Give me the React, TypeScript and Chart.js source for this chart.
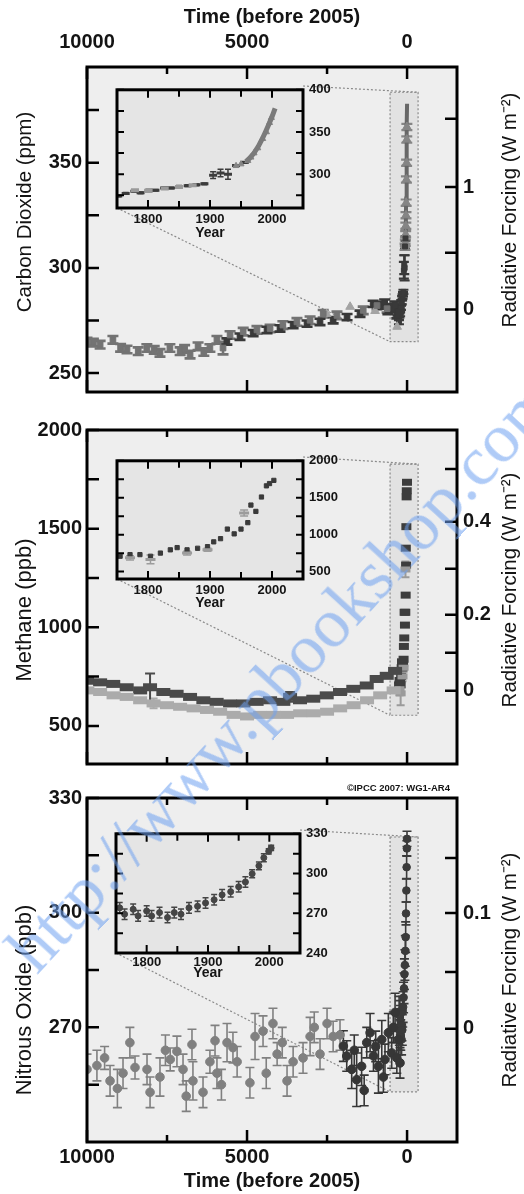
import React, { useEffect, useRef } from 'react';
import { Chart, registerables } from 'chart.js';

Chart.register(...registerables);

// ---------------- fonts & colours ----------------
const SANS = "'Liberation Sans', Arial, Helvetica, sans-serif";
const SERIF = "'Liberation Serif', 'DejaVu Serif', 'Times New Roman', serif";
const INK = '#141414';
const PANEL_BG = '#eeeeee';
const INSET_BG = '#e5e5e5';
const BOX_BG = '#e2e2e2';

// ---------------- axes: ticks & labels ----------------
const AGE_MIN = -1560;
const AGE_MAX = 10000;
const AGE_TICKS = [10000, 7500, 5000, 2500, 0];
const AGE_TICK_LABELS = ['10000', '', '5000', '', '0'];

const YEAR_TICKS = [1800, 1850, 1900, 1950, 2000];
const YEAR_TICK_LABELS = ['1800', '', '1900', '', '2000'];

const CO2_TICKS = [250, 275, 300, 325, 350, 375];
const CO2_TICK_LABELS = ['250', '', '300', '', '350', ''];
const CO2_RF_TICKS = [280.2, 307.2, 338.4, 370.9];
const CO2_RF_LABELS = ['0', '', '1', ''];
const CO2_INSET_TICKS = [275, 300, 325, 350, 375, 400];
const CO2_INSET_LABELS = ['', '300', '', '350', '', '400'];

const CH4_TICKS = [500, 750, 1000, 1250, 1500, 1750, 2000];
const CH4_TICK_LABELS = ['500', '', '1000', '', '1500', '', '2000'];
const CH4_RF_TICKS = [678, 871, 1064, 1297, 1535, 1802];
const CH4_RF_LABELS = ['0', '', '0.2', '', '0.4', ''];
const CH4_INSET_TICKS = [500, 750, 1000, 1250, 1500, 1750, 2000];
const CH4_INSET_LABELS = ['500', '', '1000', '', '1500', '', '2000'];

const N2O_TICKS = [255, 270, 285, 300, 315, 330];
const N2O_TICK_LABELS = ['', '270', '', '300', '', '330'];
const N2O_RF_TICKS = [269.6, 284.5, 299.9, 314.3];
const N2O_RF_LABELS = ['0', '', '0.1', ''];
const N2O_INSET_TICKS = [240, 255, 270, 285, 300, 315, 330];
const N2O_INSET_LABELS = ['240', '', '270', '', '300', '', '330'];

// ---------------- CO2 data (ppm) ----------------
// ages = years before 2005
const CO2_A_AGE = [10000, 9800, 9590, 9190, 8950, 8750, 8400, 8130, 7900, 7720, 7410, 7090, 6950, 6780, 6530, 6350, 6160, 5940, 5750, 5530, 5120, 4690, 4280, 3880, 3440, 3030, 2620, 2190, 1370, 940, 625];
const CO2_A_VAL = [265.0, 264.5, 263.5, 265.8, 262.0, 261.2, 260.4, 261.9, 261.0, 259.6, 261.9, 260.4, 261.5, 258.8, 262.7, 260.0, 261.9, 265.8, 261.9, 268.1, 269.7, 270.5, 271.2, 272.8, 274.3, 275.1, 278.2, 277.4, 279.8, 282.1, 280.6];
const CO2_A_ERR = [1.8, 1.8, 1.8, 1.8, 1.8, 1.8, 1.8, 1.8, 1.8, 1.8, 1.8, 1.8, 1.8, 1.8, 1.8, 1.8, 1.8, 1.8, 3.0, 1.8, 1.8, 1.8, 1.8, 1.8, 1.8, 1.8, 1.8, 1.8, 1.8, 1.8, 1.8];

const CO2_B_AGE = [5630, 5220, 4810, 4375, 3970, 3560, 3125, 2720, 2310, 1875, 1470, 1060, 840, 700, 600, 530, 450, 380, 320, 280];
const CO2_B_VAL = [265.0, 267.3, 269.0, 270.5, 271.2, 272.8, 273.5, 274.3, 275.1, 276.6, 278.2, 282.9, 282.1, 283.5, 279.5, 281.3, 280.5, 282.5, 277.5, 278.9];
const CO2_B_ERR = [1.5, 1.5, 1.5, 1.5, 1.5, 1.5, 1.5, 1.5, 1.5, 1.5, 1.5, 1.5, 1.5, 1.5, 1.5, 1.5, 1.5, 1.5, 1.5, 1.5];

const CO2_C_AGE = [2510, 1780, 1000, 310];
const CO2_C_VAL = [278.0, 281.5, 279.5, 272.0];

// calendar years (inset)
const CO2_ICE_YEAR = [1752, 1764, 1778, 1788, 1801, 1812, 1826, 1837, 1850, 1864, 1878, 1891, 1905, 1917, 1929, 1942, 1956];
const CO2_ICE_VAL = [274.2, 277.3, 279.9, 278.0, 281.0, 281.0, 283.7, 283.7, 285.6, 286.4, 287.5, 288.6, 298.9, 301.5, 300.0, 310.2, 314.0];
const CO2_ICE_ERR = [1, 1, 1, 1, 1, 1, 1, 1, 1, 1, 1, 1, 4, 4.5, 6, 1, 1];

const CO2_LD_YEAR = [1779, 1801, 1827, 1850, 1872];
const CO2_LD_VAL = [281.0, 280.0, 283.0, 285.0, 287.0];

const CO2_FIRN_YEAR = [1942, 1950, 1961, 1966, 1971, 1977, 1985, 1991, 1996, 1999];
const CO2_FIRN_VAL = [310, 312, 316, 320, 325, 331, 342, 350, 361, 367];

const ML_YEAR = [1958, 1964, 1971, 1978, 1985, 1990, 1996, 2000, 2005];
const ML_VAL = [315, 319, 325, 333, 343, 351, 361, 368, 378];

// ---------------- CH4 data (ppb) ----------------
const CH4_A_AGE = [10000, 9590, 9180, 8760, 8340, 8030, 7615, 7200, 6780, 6365, 5950, 5530, 5115, 4700, 4280, 3865, 3655, 3345, 2930, 2510, 2095, 1680, 1260, 950, 635, 375];
const CH4_A_VAL = [729, 721, 713, 696, 680, 696, 672, 663, 647, 630, 622, 614, 614, 622, 630, 622, 647, 630, 638, 655, 672, 688, 705, 738, 754, 779];
const CH4_A_ERR = [0, 0, 0, 0, 0, 70, 0, 0, 0, 0, 0, 0, 0, 0, 0, 0, 25, 0, 0, 0, 0, 0, 0, 0, 0, 0];

const CH4_B_AGE = [9990, 9590, 9170, 8760, 8340, 7920, 7500, 7090, 6670, 6250, 5840, 5420, 5000, 4590, 4170, 3750, 3340, 2920, 2500, 2090, 1670, 1250, 840, 420];
const CH4_B_VAL = [680, 672, 655, 647, 630, 614, 605, 597, 589, 581, 572, 556, 548, 556, 556, 556, 564, 564, 572, 589, 605, 630, 655, 680];
const CH4_B_ERR = [0, 0, 0, 0, 0, 25, 0, 0, 0, 0, 0, 0, 0, 0, 0, 0, 0, 0, 0, 0, 0, 0, 0, 0];

const CH4_YEAR = [1755, 1771, 1787, 1804, 1820, 1836, 1847, 1863, 1880, 1896, 1906, 1917, 1928, 1939, 1950, 1961, 1966, 1974, 1983, 1991, 1996, 2003];
const CH4_VAL = [708, 730, 730, 708, 751, 795, 825, 795, 816, 838, 903, 946, 1076, 1011, 1076, 1163, 1401, 1315, 1510, 1661, 1692, 1735];

const CH4_L_YEAR = [1771, 1804, 1863, 1896, 1955];
const CH4_L_VAL = [686, 665, 751, 795, 1293];
const CH4_L_ERR = [30, 60, 25, 20, 40];

// ---------------- N2O data (ppb) ----------------
const N2O_A_AGE = [10000, 9690, 9450, 9280, 9050, 8875, 8660, 8500, 8125, 8030, 7720, 7550, 7400, 7190, 7000, 6900, 6720, 6690, 6375, 6160, 6000, 5940, 5800, 5625, 5440, 5310, 4910, 4750, 4500, 4400, 4190, 4060, 3900, 3750, 3560, 3250, 3030, 2900, 2720, 2500, 2310, 2095];
const N2O_A_VAL = [259, 260, 262, 256, 254, 258, 266, 259.5, 259, 253, 257, 264, 261.6, 263.7, 259, 252, 265.5, 256, 253, 261, 266.5, 258, 255, 266, 264.7, 261, 255.5, 267.6, 269, 258, 271, 263, 266, 256, 261, 262, 267.6, 270, 263, 271, 267.6, 268];
const N2O_A_ERR = [4, 4, 3, 4, 5, 4, 4, 3, 4, 4, 5, 4, 3, 4, 4, 4, 4, 5, 4, 3, 4, 4, 4, 5, 4, 4, 4, 6, 4, 4, 4, 3, 4, 4, 4, 4, 5, 4, 4, 4, 4, 4];

const N2O_B_AGE = [1990, 1885, 1730, 1650, 1575, 1420, 1340, 1260, 1155, 1050, 980, 895, 790, 740, 690, 585, 480, 430, 375, 320, 270, 220];
const N2O_B_VAL = [265.1, 262.5, 259, 264, 256.3, 259.8, 253.5, 266, 268.6, 262.5, 265, 259.8, 266.8, 257, 261.6, 268.6, 263.3, 270, 273.9, 262, 266.8, 260.7];
const N2O_B_ERR = [4, 4, 5, 4, 7, 5, 4, 4, 5, 4, 4, 7, 5, 4, 4, 5, 4, 4, 5, 4, 4, 4];

const N2O_YEAR = [1756, 1764, 1778, 1786, 1800, 1808, 1821, 1834, 1845, 1856, 1869, 1883, 1896, 1910, 1923, 1937, 1950, 1961, 1972, 1983, 1991, 1999, 2003];
const N2O_VAL = [274.1, 269.3, 273, 268, 271.7, 268, 270.5, 266.8, 270.5, 269.3, 274.1, 275.3, 277.8, 280.2, 283.9, 286.3, 290, 293.6, 299.8, 305.8, 311.9, 316.8, 319.3];
const N2O_ERR = [4, 4, 4, 4, 4, 4, 4, 4, 4, 4, 4, 4, 4, 4, 4, 4, 4, 4, 3, 3, 3, 2, 2];

// ---------------- helpers ----------------
const pts = (xs: number[], ys: number[]) => xs.map((x, i) => ({ x, y: ys[i] }));
const toAge = (years: number[]) => years.map((yr) => 2005 - yr);

function mark(color: string, style: string, radius: number, bw = 1, extra: any = {}) {
  return {
    pointStyle: style,
    pointRadius: radius,
    pointHoverRadius: radius,
    pointBorderWidth: bw,
    borderWidth: bw,
    backgroundColor: color,
    borderColor: color,
    pointBackgroundColor: color,
    pointBorderColor: color,
    showLine: false,
    ...extra,
  };
}

function drawErrorBars(chart: any) {
  const { ctx, chartArea: a, scales } = chart;
  const x = scales.x;
  const y = scales.y;
  ctx.save();
  ctx.beginPath();
  ctx.rect(a.left, a.top, a.right - a.left, a.bottom - a.top);
  ctx.clip();
  chart.data.datasets.forEach((ds: any) => {
    if (!ds.err) return;
    ctx.strokeStyle = ds.errColor || ds.borderColor;
    ctx.lineWidth = ds.errWidth || 1.5;
    const cap = ds.capHalf ?? 4;
    ds.data.forEach((p: any, i: number) => {
      const e = ds.err[i];
      if (!e) return;
      const px = x.getPixelForValue(p.x);
      const p1 = y.getPixelForValue(p.y - e);
      const p2 = y.getPixelForValue(p.y + e);
      ctx.beginPath();
      ctx.moveTo(px, p1);
      ctx.lineTo(px, p2);
      ctx.moveTo(px - cap, p1);
      ctx.lineTo(px + cap, p1);
      ctx.moveTo(px - cap, p2);
      ctx.lineTo(px + cap, p2);
      ctx.stroke();
    });
  });
  ctx.restore();
}

function drawFrame(chart: any, o: { xMajor: number; xMinor: number; yLen: number; lw: number; frameLw: number }) {
  const { ctx, chartArea: a, scales } = chart;
  const x = scales.x;
  const yl = scales.y;
  const yr = scales.y2 || scales.y;
  ctx.save();
  ctx.strokeStyle = '#000';
  ctx.lineWidth = o.lw;
  ctx.beginPath();
  x.ticks.forEach((t: any) => {
    const p = x.getPixelForValue(t.value);
    const L = t.label ? o.xMajor : o.xMinor;
    ctx.moveTo(p, a.top);
    ctx.lineTo(p, a.top + L);
    ctx.moveTo(p, a.bottom);
    ctx.lineTo(p, a.bottom - L);
  });
  yl.ticks.forEach((t: any) => {
    const p = yl.getPixelForValue(t.value);
    ctx.moveTo(a.left, p);
    ctx.lineTo(a.left + o.yLen, p);
  });
  yr.ticks.forEach((t: any) => {
    const p = yr.getPixelForValue(t.value);
    ctx.moveTo(a.right, p);
    ctx.lineTo(a.right - o.yLen, p);
  });
  ctx.stroke();
  ctx.lineWidth = o.frameLw;
  ctx.strokeRect(a.left, a.top, a.right - a.left, a.bottom - a.top);
  ctx.restore();
}

function drawVText(ctx: any, text: string, cx: number, cy: number, font: string) {
  ctx.save();
  ctx.translate(cx, cy);
  ctx.rotate(-Math.PI / 2);
  ctx.font = font;
  ctx.fillStyle = INK;
  ctx.textAlign = 'center';
  ctx.textBaseline = 'middle';
  ctx.fillText(text, 0, 0);
  ctx.restore();
}

// ---------------- panel layouts ----------------
const INSET_CO2 = { id: 'i1', area: { l: 117, t: 86, r: 303, b: 208 }, canvas: { l: 109, t: 76, w: 240, h: 170 }, xPad: 4, yearPad: 4.6 };
const INSET_CH4 = { id: 'i2', area: { l: 117, t: 457, r: 303, b: 579 }, canvas: { l: 109, t: 447, w: 240, h: 170 }, xPad: 3.2, yearPad: 5.6 };
const INSET_N2O = { id: 'i3', area: { l: 116, t: 830, r: 300, b: 953 }, canvas: { l: 108, t: 820, w: 240, h: 170 }, xPad: 1.2, yearPad: 8.6 };

const PANELS: any[] = [
  {
    id: 'co2', top: 0, height: 410, padTop: 0, padBottom: 10, xMode: 'top', xAxisH: 67,
    xTickPad: 13, xTitlePad: { top: 5, bottom: 0 },
    yMin: 241, yMax: 395.5, yTicks: CO2_TICKS, yLabels: CO2_TICK_LABELS, rfTicks: CO2_RF_TICKS, rfLabels: CO2_RF_LABELS,
    leftTitle: 'Carbon Dioxide (ppm)', leftTitleY: 212, leftSize: 20.5, rightTitleY: 210,
    box: { a0: 531, a1: -344, v0: 264.9, v1: 383.5 }, inset: INSET_CO2.area,
    datasets: () => [
      { data: pts(CO2_A_AGE, CO2_A_VAL), err: CO2_A_ERR, capHalf: 5.5, errWidth: 2.6, ...mark('#737373', 'rect', 4) },
      { data: pts(CO2_B_AGE, CO2_B_VAL), err: CO2_B_ERR, capHalf: 5.5, errWidth: 2.6, ...mark('#393939', 'rect', 4) },
      { data: pts(CO2_C_AGE, CO2_C_VAL), ...mark('#a3a3a3', 'triangle', 5) },
      { data: pts(toAge(CO2_ICE_YEAR), CO2_ICE_VAL), err: CO2_ICE_ERR, capHalf: 5, errWidth: 2.2, ...mark('#3a3a3a', 'rect', 3.5) },
      { data: pts(toAge(CO2_FIRN_YEAR), CO2_FIRN_VAL), err: CO2_FIRN_VAL.map(() => 1.5), capHalf: 5.5, errWidth: 2.2, ...mark('#858585', 'triangle', 5) },
      { data: pts(toAge(ML_YEAR), ML_VAL), ...mark('#676767', 'circle', 0, 4, { showLine: true, borderWidth: 4 }) },
    ],
  },
  {
    id: 'ch4', top: 410, height: 372, padTop: 20, padBottom: 10, xMode: 'none', xAxisH: 0,
    xTickPad: 0, xTitlePad: 0,
    yMin: 307, yMax: 2000, yTicks: CH4_TICKS, yLabels: CH4_TICK_LABELS, rfTicks: CH4_RF_TICKS, rfLabels: CH4_RF_LABELS,
    leftTitle: 'Methane (ppb)', leftTitleY: 610, leftSize: 22, rightTitleY: 590,
    box: { a0: 531, a1: -344, v0: 554, v1: 1827 }, inset: INSET_CH4.area,
    datasets: () => [
      { data: pts(CH4_B_AGE, CH4_B_VAL), err: CH4_B_ERR, capHalf: 4, errWidth: 2, ...mark('#ababab', 'line', 7, 8) },
      { data: pts(CH4_A_AGE, CH4_A_VAL), err: CH4_A_ERR, capHalf: 5, errWidth: 2, ...mark('#4a4a4a', 'line', 7, 8) },
      { data: pts(toAge(CH4_L_YEAR), CH4_L_VAL), err: CH4_L_ERR, capHalf: 4, errWidth: 2, ...mark('#9a9a9a', 'line', 5, 6) },
      { data: pts(toAge(CH4_YEAR), CH4_VAL), ...mark('#3d3d3d', 'line', 5, 7) },
    ],
  },
  {
    id: 'n2o', top: 780, height: 414, padTop: 18, padBottom: 0, xMode: 'bottom', xAxisH: 52,
    xTickPad: 3.5, xTitlePad: { top: 0, bottom: 1 },
    yMin: 240, yMax: 330, yTicks: N2O_TICKS, yLabels: N2O_TICK_LABELS, rfTicks: N2O_RF_TICKS, rfLabels: N2O_RF_LABELS,
    leftTitle: 'Nitrous Oxide (ppb)', leftTitleY: 1000, leftSize: 22, rightTitleY: 970,
    box: { a0: 531, a1: -344, v0: 253.1, v1: 319.8 }, inset: INSET_N2O.area,
    copyright: '©IPCC 2007: WG1-AR4',
    datasets: () => [
      { data: pts(N2O_A_AGE, N2O_A_VAL), err: N2O_A_ERR, capHalf: 4.5, errWidth: 1.6, ...mark('#808080', 'circle', 4.3) },
      { data: pts(N2O_B_AGE, N2O_B_VAL), err: N2O_B_ERR, capHalf: 4.5, errWidth: 1.6, ...mark('#363636', 'circle', 4.3) },
      { data: pts(toAge(N2O_YEAR), N2O_VAL), err: N2O_ERR, capHalf: 4.5, errWidth: 1.6, ...mark('#3a3a3a', 'circle', 3.8) },
    ],
  },
];

const INSETS: any[] = [
  {
    ...INSET_CO2, yMin: 260, yMax: 400, yTicks: CO2_INSET_TICKS, yLabels: CO2_INSET_LABELS,
    datasets: () => [
      { data: pts(CO2_LD_YEAR, CO2_LD_VAL), ...mark('#9a9a9a', 'line', 4, 4) },
      { data: pts(ML_YEAR, ML_VAL), ...mark('#7a7a7a', 'circle', 0, 5, { showLine: true, borderWidth: 5 }) },
      { data: pts(CO2_FIRN_YEAR, CO2_FIRN_VAL), ...mark('#858585', 'triangle', 3.5) },
      { data: pts(CO2_ICE_YEAR, CO2_ICE_VAL), err: CO2_ICE_ERR, capHalf: 3, errWidth: 1.5, ...mark('#3c3c3c', 'line', 4, 3) },
    ],
  },
  {
    ...INSET_CH4, yMin: 400, yMax: 2000, yTicks: CH4_INSET_TICKS, yLabels: CH4_INSET_LABELS,
    datasets: () => [
      { data: pts(CH4_L_YEAR, CH4_L_VAL), err: CH4_L_ERR, capHalf: 4, errWidth: 1.5, ...mark('#9c9c9c', 'line', 5, 3) },
      { data: pts(CH4_YEAR, CH4_VAL), ...mark('#3a3a3a', 'rect', 3) },
    ],
  },
  {
    ...INSET_N2O, yMin: 240, yMax: 330, yTicks: N2O_INSET_TICKS, yLabels: N2O_INSET_LABELS,
    datasets: () => [
      { data: pts(N2O_YEAR, N2O_VAL), err: N2O_ERR, capHalf: 3, errWidth: 1.5, ...mark('#454545', 'circle', 3) },
    ],
  },
];

// ---------------- chart configs ----------------
function mainConfig(s: any) {
  const tickFont = { family: SANS, size: 20, weight: 'bold' as const };
  const plugin = {
    id: 'panel_' + s.id,
    beforeDraw(chart: any) {
      const { ctx, chartArea: a, scales } = chart;
      const x = scales.x;
      const y = scales.y;
      ctx.save();
      ctx.fillStyle = PANEL_BG;
      ctx.fillRect(a.left, a.top, a.right - a.left, a.bottom - a.top);
      const bl = x.getPixelForValue(s.box.a0);
      const br = x.getPixelForValue(s.box.a1);
      const bt = y.getPixelForValue(s.box.v1);
      const bb = y.getPixelForValue(s.box.v0);
      ctx.fillStyle = BOX_BG;
      ctx.fillRect(bl, bt, br - bl, bb - bt);
      ctx.setLineDash([2, 2]);
      ctx.strokeStyle = '#8a8a8a';
      ctx.lineWidth = 1.2;
      ctx.strokeRect(bl, bt, br - bl, bb - bt);
      ctx.beginPath();
      ctx.moveTo(s.inset.r, s.inset.t - s.top);
      ctx.lineTo(br, bt);
      ctx.moveTo(s.inset.l, s.inset.b - s.top);
      ctx.lineTo(bl, bb);
      ctx.stroke();
      ctx.restore();
    },
    beforeDatasetsDraw(chart: any) {
      drawErrorBars(chart);
    },
    afterDraw(chart: any) {
      drawFrame(chart, { xMajor: 12, xMinor: 7, yLen: 12, lw: 2.5, frameLw: 3 });
      const ctx = chart.ctx;
      drawVText(ctx, s.leftTitle, 25, s.leftTitleY - s.top, `${s.leftSize}px ${SANS}`);
      drawVText(ctx, 'Radiative Forcing (W m⁻²)', 510, s.rightTitleY - s.top, `20.5px ${SANS}`);
      if (s.copyright) {
        ctx.save();
        ctx.font = `bold 9.5px ${SANS}`;
        ctx.fillStyle = INK;
        ctx.textAlign = 'right';
        ctx.textBaseline = 'middle';
        ctx.fillText(s.copyright, 450, 788 - s.top);
        ctx.restore();
      }
    },
  };
  const yCommon = (ticks: number[], labels: string[], width: number, pos: string) => ({
    type: 'linear',
    position: pos,
    min: s.yMin,
    max: s.yMax,
    grid: { display: false, drawTicks: false },
    border: { display: false },
    afterBuildTicks: (sc: any) => {
      sc.ticks = ticks.map((v) => ({ value: v }));
    },
    afterFit: (sc: any) => {
      sc.width = width;
    },
    ticks: { autoSkip: false, padding: pos === 'left' ? 5 : 6, font: tickFont, color: INK, callback: (_v: any, i: number) => labels[i] },
  });
  return {
    type: 'scatter',
    data: { datasets: s.datasets() },
    options: {
      animation: false,
      responsive: false,
      devicePixelRatio: 1,
      events: [],
      layout: { padding: { left: 0, right: 0, top: s.padTop, bottom: s.padBottom } },
      plugins: { legend: { display: false }, tooltip: { enabled: false } },
      scales: {
        x: {
          type: 'linear',
          reverse: true,
          min: AGE_MIN,
          max: AGE_MAX,
          position: s.xMode === 'top' ? 'top' : 'bottom',
          grid: { display: false, drawTicks: false },
          border: { display: false },
          afterBuildTicks: (sc: any) => {
            sc.ticks = AGE_TICKS.map((v) => ({ value: v }));
          },
          afterFit: (sc: any) => {
            sc.height = s.xAxisH;
          },
          ticks: {
            display: s.xMode !== 'none',
            autoSkip: false,
            maxRotation: 0,
            padding: s.xTickPad,
            font: tickFont,
            color: INK,
            callback: (_v: any, i: number) => AGE_TICK_LABELS[i],
          },
          title: {
            display: s.xMode !== 'none',
            text: 'Time (before 2005)',
            color: INK,
            font: { family: SANS, size: 20, weight: 'bold' },
            padding: s.xTitlePad,
          },
        },
        y: yCommon(s.yTicks, s.yLabels, 87, 'left'),
        y2: yCommon(s.rfTicks, s.rfLabels, 67, 'right'),
      },
    },
    plugins: [plugin],
  };
}

function insetConfig(s: any) {
  const tickFont = { family: SANS, size: 13, weight: 'bold' as const };
  const plugin = {
    id: 'inset_' + s.id,
    beforeDraw(chart: any) {
      const { ctx, chartArea: a } = chart;
      ctx.save();
      ctx.fillStyle = INSET_BG;
      ctx.fillRect(a.left, a.top, a.right - a.left, a.bottom - a.top);
      ctx.restore();
    },
    beforeDatasetsDraw(chart: any) {
      drawErrorBars(chart);
    },
    afterDraw(chart: any) {
      drawFrame(chart, { xMajor: 8, xMinor: 7, yLen: 7, lw: 2, frameLw: 3 });
    },
  };
  return {
    type: 'scatter',
    data: { datasets: s.datasets() },
    options: {
      animation: false,
      responsive: false,
      devicePixelRatio: 1,
      events: [],
      layout: { padding: { left: s.area.l - s.canvas.l, top: s.area.t - s.canvas.t, right: 0, bottom: 0 } },
      plugins: { legend: { display: false }, tooltip: { enabled: false } },
      scales: {
        x: {
          type: 'linear',
          min: 1750,
          max: 2050,
          position: 'bottom',
          grid: { display: false, drawTicks: false },
          border: { display: false },
          afterBuildTicks: (sc: any) => {
            sc.ticks = YEAR_TICKS.map((v) => ({ value: v }));
          },
          afterFit: (sc: any) => {
            sc.height = s.canvas.t + s.canvas.h - s.area.b;
          },
          ticks: { autoSkip: false, maxRotation: 0, padding: s.xPad, font: tickFont, color: INK, callback: (_v: any, i: number) => YEAR_TICK_LABELS[i] },
          title: { display: true, text: 'Year', color: INK, font: { family: SANS, size: 14, weight: 'bold' }, padding: { top: 0, bottom: s.yearPad } },
        },
        y: {
          type: 'linear',
          position: 'right',
          min: s.yMin,
          max: s.yMax,
          grid: { display: false, drawTicks: false },
          border: { display: false },
          afterBuildTicks: (sc: any) => {
            sc.ticks = s.yTicks.map((v: number) => ({ value: v }));
          },
          afterFit: (sc: any) => {
            sc.width = s.canvas.l + s.canvas.w - s.area.r;
          },
          ticks: { autoSkip: false, padding: 6, font: tickFont, color: INK, callback: (_v: any, i: number) => s.yLabels[i] },
        },
      },
    },
    plugins: [plugin],
  };
}

function ChartBox({ left, top, width, height, build }: any) {
  const ref = useRef<HTMLCanvasElement | null>(null);
  useEffect(() => {
    if (!ref.current) return;
    const chart = new Chart(ref.current, build());
    return () => chart.destroy();
  }, []);
  return (
    <div style={{ position: 'absolute', left, top, width, height }}>
      <canvas ref={ref} width={width} height={height} style={{ display: 'block', width, height }} />
    </div>
  );
}

export default function App() {
  return (
    <div style={{ position: 'absolute', left: 0, top: 0, width: 524, height: 1194, overflow: 'hidden', background: '#ffffff' }}>
      {PANELS.map((p) => (
        <ChartBox key={p.id} left={0} top={p.top} width={524} height={p.height} build={() => mainConfig(p)} />
      ))}
      {INSETS.map((s) => (
        <ChartBox key={s.id} left={s.canvas.l} top={s.canvas.t} width={s.canvas.w} height={s.canvas.h} build={() => insetConfig(s)} />
      ))}
      <div
        style={{
          position: 'absolute',
          left: 20,
          top: 925,
          height: 70,
          lineHeight: '70px',
          fontFamily: SERIF,
          fontSize: 70,
          color: 'rgba(110,160,240,0.55)',
          whiteSpace: 'nowrap',
          transform: 'rotate(-47.5deg)',
          transformOrigin: '0 50%',
          pointerEvents: 'none',
        }}
      >
        http://www.pbookshop.com
      </div>
    </div>
  );
}
